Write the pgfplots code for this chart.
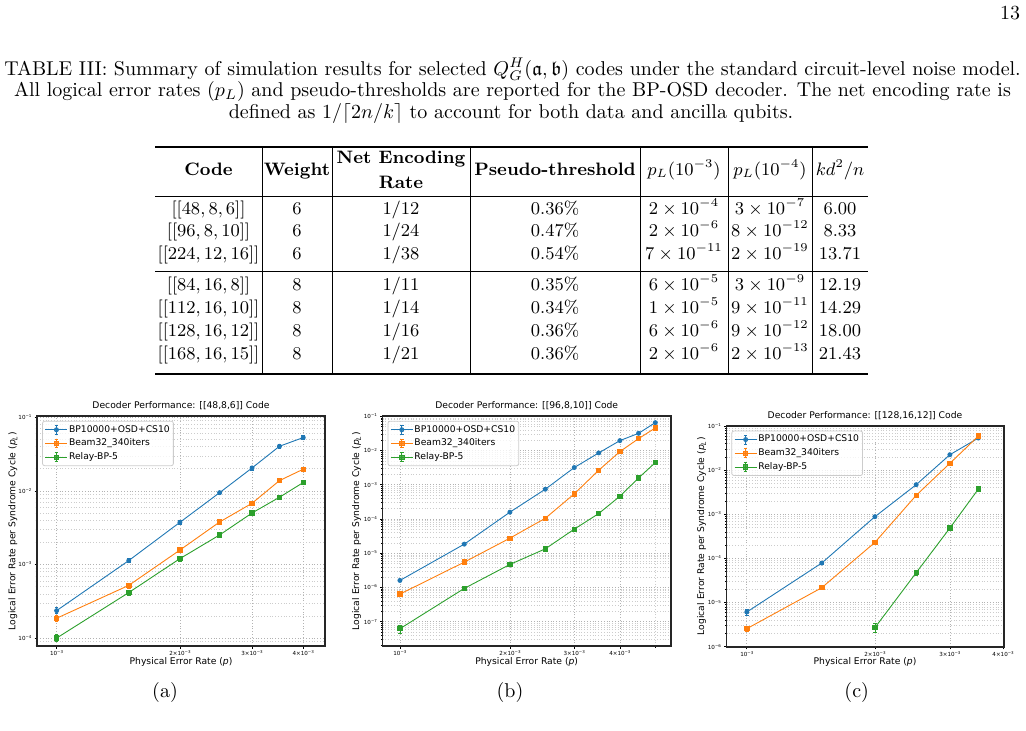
\documentclass[border=0pt]{standalone}
\usepackage{amssymb}
\usepackage{fontspec}
\usepackage{pgfplots}
\pgfplotsset{compat=1.18}
\newfontfamily\pf{DejaVu Sans}
\newcommand\pfs{\pf\fontsize{4.6}{5.5}\selectfont}
\newcommand\pft{\pf\fontsize{2.8}{3.2}\selectfont}
\newcommand\tsup[1]{\raisebox{0.95pt}{\fontsize{2.0}{2.2}\selectfont #1}}
\definecolor{mblue}{HTML}{1F77B4}
\definecolor{morange}{HTML}{FF7F0E}
\definecolor{mgreen}{HTML}{2CA02C}
\pgfplotsset{
  legend image code/.code={
    \draw[#1,mark=none] (0pt,0pt) -- (11pt,0pt);
    \draw[#1,mark=none] (5.5pt,-2.2pt) -- (5.5pt,2.2pt);
    \draw[#1,mark=none] (4.6pt,-2.2pt) -- (6.4pt,-2.2pt);
    \draw[#1,mark=none] (4.6pt,2.2pt) -- (6.4pt,2.2pt);
    \draw[#1] plot coordinates {(5.5pt,0pt)};
  },
}
\newcommand\trow[8]{%
  \node[tb] at (208.5,#1) {#2};
  \node[tb] at (297,#1) {#3};
  \node[tb] at (401,#1) {#4};
  \node[tb] at (555,#1) {#5};
  \node[tb] at (684,#1) {#6};
  \node[tb] at (770,#1) {#7};
  \node[tb] at (840,#1) {#8};}
\begin{document}
\begin{tikzpicture}
\path[use as bounding box] (0pt,0pt) rectangle (513pt,-365pt);
\begin{scope}[x=0.5pt,y=-0.5pt, tb/.style={anchor=base, inner sep=0pt, font=\small}]
  \node[anchor=base, inner sep=0pt] at (1010,19.5) {13};
  \node[anchor=base, inner sep=0pt] at (512.5,75) {TABLE III: Summary of simulation results for selected $Q_G^H(\mathfrak{a},\mathfrak{b})$ codes under the standard circuit-level noise model.};
  \node[anchor=base, inner sep=0pt] at (512.5,96) {All logical error rates ($p_L$) and pseudo-thresholds are reported for the BP-OSD decoder. The net encoding rate is};
  \node[anchor=base, inner sep=0pt] at (511,118) {defined as $1/\lceil 2n/k\rceil$ to account for both data and ancilla qubits.};
  \draw[line width=0.6pt] (155,147) -- (868,147);
  \draw[line width=0.4pt] (155,196) -- (868,196);
  \draw[line width=0.5pt] (155,271) -- (868,271);
  \draw[line width=0.6pt] (155,374) -- (868,374);
  \foreach \vx in {262,332,470,640,728,812} \draw[line width=0.4pt] (\vx,147) -- (\vx,374);
  \node[tb] at (208.5,175) {\textbf{Code}};
  \node[tb] at (297,175) {\textbf{Weight}};
  \node[tb] at (401,163) {\textbf{Net Encoding}};
  \node[tb] at (401,188) {\textbf{Rate}};
  \node[tb] at (555,175) {\textbf{Pseudo-threshold}};
  \node[tb] at (684,175) {$p_L(10^{-3})$};
  \node[tb] at (770,175) {$p_L(10^{-4})$};
  \node[tb] at (840,175) {$kd^2/n$};
  \trow{214.5}{$[[48,8,6]]$}{6}{$1/12$}{0.36\%}{$2\times10^{-4}$}{$3\times10^{-7}$}{6.00}
  \trow{236.5}{$[[96,8,10]]$}{6}{$1/24$}{0.47\%}{$2\times10^{-6}$}{$8\times10^{-12}$}{8.33}
  \trow{259.5}{$[[224,12,16]]$}{6}{$1/38$}{0.54\%}{$7\times10^{-11}$}{$2\times10^{-19}$}{13.71}
  \trow{290.5}{$[[84,16,8]]$}{8}{$1/11$}{0.35\%}{$6\times10^{-5}$}{$3\times10^{-9}$}{12.19}
  \trow{313.5}{$[[112,16,10]]$}{8}{$1/14$}{0.34\%}{$1\times10^{-5}$}{$9\times10^{-11}$}{14.29}
  \trow{336.5}{$[[128,16,12]]$}{8}{$1/16$}{0.36\%}{$6\times10^{-6}$}{$9\times10^{-12}$}{18.00}
  \trow{359.5}{$[[168,16,15]]$}{8}{$1/21$}{0.36\%}{$2\times10^{-6}$}{$2\times10^{-13}$}{21.43}
  \node[font=\pfs] at (181,406) {Decoder Performance: [[48,8,6]] Code};
  \node[font=\pfs] at (526.7,406) {Decoder Performance: [[96,8,10]] Code};
  \node[font=\pfs] at (865,416) {Decoder Performance: [[128,16,12]] Code};
  \node[font=\pfs] at (181,662) {Physical Error Rate ({\itshape p})};
  \node[font=\pfs] at (526.7,662) {Physical Error Rate ({\itshape p})};
  \node[font=\pfs] at (865,662) {Physical Error Rate ({\itshape p})};
  \node[font=\pfs, rotate=90] at (13,531) {Logical Error Rate per Syndrome Cycle ({\itshape p}\textsubscript{\itshape L})};
  \node[font=\pfs, rotate=90] at (356.7,531) {Logical Error Rate per Syndrome Cycle ({\itshape p}\textsubscript{\itshape L})};
  \node[font=\pfs, rotate=90] at (701.7,536) {Logical Error Rate per Syndrome Cycle ({\itshape p}\textsubscript{\itshape L})};
  \node[anchor=base, inner sep=0pt] at (165,697) {(a)};
  \node[anchor=base, inner sep=0pt] at (510,697) {(b)};
  \node[anchor=base, inner sep=0pt] at (856.7,697) {(c)};
\end{scope}

% ---------- (a) ----------
\begin{axis}[scale only axis, xmode=log, ymode=log, anchor=south west,
  at={(18.65pt,-323pt)}, width=143.85pt, height=115pt,
  tick align=outside, xtick pos=bottom, ytick pos=left,
  major tick length=1.3pt, minor tick length=0.8pt,
  tick style={line width=0.3pt, black},
  axis line style={line width=0.8pt, black!85},
  xmajorgrids, ymajorgrids, yminorgrids,
  major grid style={densely dotted, gray!60, line width=0.3pt},
  minor grid style={densely dotted, gray!40, line width=0.25pt},
  ticklabel style={font=\pft},
  xticklabel style={inner sep=0.8pt}, yticklabel style={inner sep=1.4pt},
  xtick={0.001,0.002,0.003,0.004},
  xticklabels={10\tsup{−3},2×10\tsup{−3},3×10\tsup{−3},4×10\tsup{−3}},
  legend cell align=left,
  legend style={at={(0.017,0.979)}, anchor=north west, font=\pfs,
    draw=gray!40, rounded corners=1pt, fill=white, fill opacity=0.8, text opacity=1,
    inner xsep=1.2pt, inner ysep=1.4pt, row sep=1.15pt,
    nodes={inner sep=0.6pt, text height=3.4pt, text depth=1.1pt}},
  xmin=0.000897, xmax=0.00452, ymin=7.8e-5, ymax=0.104,
  ytick={1e-4,1e-3,1e-2,1e-1},
  yticklabels={10\tsup{−4},10\tsup{−3},10\tsup{−2},10\tsup{−1}},
  minor ytick={8e-5,9e-5,2e-4,3e-4,4e-4,5e-4,6e-4,7e-4,8e-4,9e-4,2e-3,3e-3,4e-3,5e-3,6e-3,7e-3,8e-3,9e-3,2e-2,3e-2,4e-2,5e-2,6e-2,7e-2,8e-2,9e-2}]
\addplot[mblue, mark=*, mark size=1pt, line width=0.45pt,
  error bars/y dir=both, error bars/y explicit,
  error bars/error bar style={line width=0.35pt},
  error bars/error mark options={rotate=90, mark size=0.9pt, line width=0.35pt}]
  table[x=x,y=y,y error=e] {
x y e
0.001 2.36e-4 2.2e-5
0.0015 1.13e-3 7e-5
0.002 3.74e-3 2.2e-4
0.0025 9.46e-3 5e-4
0.003 2.05e-2 1.2e-3
0.0035 4.04e-2 2.2e-3
0.004 5.3e-2 3.5e-3
};
\addlegendentry{BP10000+OSD+CS10}
\addplot[morange, mark=square*, mark size=1.1pt, line width=0.45pt,
  error bars/y dir=both, error bars/y explicit,
  error bars/error bar style={line width=0.35pt},
  error bars/error mark options={rotate=90, mark size=0.9pt, line width=0.35pt}]
  table[x=x,y=y,y error=e] {
x y e
0.001 1.86e-4 1.9e-5
0.0015 5.2e-4 4e-5
0.002 1.57e-3 1e-4
0.0025 3.78e-3 2.2e-4
0.003 6.79e-3 4.5e-4
0.0035 1.38e-2 9e-4
0.004 1.97e-2 1.3e-3
};
\addlegendentry{Beam32\_340iters}
\addplot[mgreen, mark=square*, mark size=1.1pt, line width=0.45pt,
  error bars/y dir=both, error bars/y explicit,
  error bars/error bar style={line width=0.35pt},
  error bars/error mark options={rotate=90, mark size=0.9pt, line width=0.35pt}]
  table[x=x,y=y,y error=e] {
x y e
0.001 1.0e-4 1.1e-5
0.0015 4.15e-4 3.5e-5
0.002 1.2e-3 8e-5
0.0025 2.52e-3 1.8e-4
0.003 5.01e-3 3.5e-4
0.0035 8.19e-3 6e-4
0.004 1.3e-2 9e-4
};
\addlegendentry{Relay-BP-5}
\end{axis}

% ---------- (b) ----------
\begin{axis}[scale only axis, xmode=log, ymode=log, anchor=south west,
  at={(191.35pt,-323pt)}, width=144.15pt, height=115pt,
  tick align=outside, xtick pos=bottom, ytick pos=left,
  major tick length=1.3pt, minor tick length=0.8pt,
  tick style={line width=0.3pt, black},
  axis line style={line width=0.8pt, black!85},
  xmajorgrids, xminorgrids, ymajorgrids, yminorgrids,
  major grid style={densely dotted, gray!60, line width=0.3pt},
  minor grid style={densely dotted, gray!40, line width=0.25pt},
  ticklabel style={font=\pft},
  xticklabel style={inner sep=0.8pt}, yticklabel style={inner sep=1.4pt},
  xtick={0.001,0.002,0.003,0.004},
  xticklabels={10\tsup{−3},2×10\tsup{−3},3×10\tsup{−3},4×10\tsup{−3}},
  minor xtick={0.005},
  legend cell align=left,
  legend style={at={(0.017,0.979)}, anchor=north west, font=\pfs,
    draw=gray!40, rounded corners=1pt, fill=white, fill opacity=0.8, text opacity=1,
    inner xsep=1.2pt, inner ysep=1.4pt, row sep=1.15pt,
    nodes={inner sep=0.6pt, text height=3.4pt, text depth=1.1pt}},
  xmin=0.000897, xmax=0.00552, ymin=1.94e-8, ymax=0.102,
  ytick={1e-7,1e-6,1e-5,1e-4,1e-3,1e-2,1e-1},
  yticklabels={10\tsup{−7},10\tsup{−6},10\tsup{−5},10\tsup{−4},10\tsup{−3},10\tsup{−2},10\tsup{−1}},
  minor ytick={2e-8,3e-8,4e-8,5e-8,6e-8,7e-8,8e-8,9e-8,2e-7,3e-7,4e-7,5e-7,6e-7,7e-7,8e-7,9e-7,2e-6,3e-6,4e-6,5e-6,6e-6,7e-6,8e-6,9e-6,2e-5,3e-5,4e-5,5e-5,6e-5,7e-5,8e-5,9e-5,2e-4,3e-4,4e-4,5e-4,6e-4,7e-4,8e-4,9e-4,2e-3,3e-3,4e-3,5e-3,6e-3,7e-3,8e-3,9e-3,2e-2,3e-2,4e-2,5e-2,6e-2,7e-2,8e-2,9e-2}]
\addplot[mblue, mark=*, mark size=1pt, line width=0.45pt,
  error bars/y dir=both, error bars/y explicit,
  error bars/error bar style={line width=0.35pt},
  error bars/error mark options={rotate=90, mark size=0.9pt, line width=0.35pt}]
  table[x=x,y=y,y error=e] {
x y e
0.001 1.6e-6 1.0e-7
0.0015 1.84e-5 6e-7
0.002 1.58e-4 3e-6
0.0025 7.41e-4 1e-5
0.003 3.18e-3 3e-5
0.0035 8.51e-3 6e-5
0.004 1.95e-2 1e-4
0.0045 3.19e-2 2e-4
0.005 6.53e-2 3e-4
};
\addlegendentry{BP10000+OSD+CS10}
\addplot[morange, mark=square*, mark size=1.1pt, line width=0.45pt,
  error bars/y dir=both, error bars/y explicit,
  error bars/error bar style={line width=0.35pt},
  error bars/error mark options={rotate=90, mark size=0.9pt, line width=0.35pt}]
  table[x=x,y=y,y error=e] {
x y e
0.001 6.38e-7 6e-8
0.0015 5.48e-6 3e-7
0.002 2.75e-5 1e-6
0.0025 1.05e-4 3e-6
0.003 5.41e-4 1e-5
0.0035 2.65e-3 3e-5
0.004 9.31e-3 6e-5
0.0045 2.23e-2 1e-4
0.005 4.57e-2 2e-4
};
\addlegendentry{Beam32\_340iters}
\addplot[mgreen, mark=square*, mark size=1.1pt, line width=0.45pt,
  error bars/y dir=both, error bars/y explicit,
  error bars/error bar style={line width=0.35pt},
  error bars/error mark options={rotate=90, mark size=0.9pt, line width=0.35pt}]
  table[x=x,y=y,y error=e] {
x y e
0.001 6.22e-8 1.6e-8
0.0015 9.35e-7 8e-8
0.002 4.69e-6 2.5e-7
0.0025 1.34e-5 6e-7
0.003 5.04e-5 1.5e-6
0.0035 1.44e-4 4e-6
0.004 4.62e-4 1e-5
0.0045 1.58e-3 3e-5
0.005 4.45e-3 6e-5
};
\addlegendentry{Relay-BP-5}
\end{axis}

% ---------- (c) ----------
\begin{axis}[scale only axis, xmode=log, ymode=log, anchor=south west,
  at={(363.35pt,-323.35pt)}, width=138.65pt, height=110.35pt,
  tick align=outside, xtick pos=bottom, ytick pos=left,
  major tick length=1.3pt, minor tick length=0.8pt,
  tick style={line width=0.3pt, black},
  axis line style={line width=0.8pt, black!85},
  xmajorgrids, ymajorgrids, yminorgrids,
  major grid style={densely dotted, gray!60, line width=0.3pt},
  minor grid style={densely dotted, gray!40, line width=0.25pt},
  ticklabel style={font=\pft},
  xticklabel style={inner sep=0.8pt}, yticklabel style={inner sep=1.4pt},
  xtick={0.001,0.002,0.003,0.004},
  xticklabels={10\tsup{−3},2×10\tsup{−3},3×10\tsup{−3},4×10\tsup{−3}},
  legend cell align=left,
  legend style={at={(0.017,0.979)}, anchor=north west, font=\pfs,
    draw=gray!40, rounded corners=1pt, fill=white, fill opacity=0.8, text opacity=1,
    inner xsep=1.2pt, inner ysep=1.4pt, row sep=1.15pt,
    nodes={inner sep=0.6pt, text height=3.4pt, text depth=1.1pt}},
  xmin=0.000897, xmax=0.00402, ymin=0.999e-6, ymax=0.1001,
  ytick={1e-6,1e-5,1e-4,1e-3,1e-2,1e-1},
  yticklabels={10\tsup{−6},10\tsup{−5},10\tsup{−4},10\tsup{−3},10\tsup{−2},10\tsup{−1}},
  minor ytick={2e-6,3e-6,4e-6,5e-6,6e-6,7e-6,8e-6,9e-6,2e-5,3e-5,4e-5,5e-5,6e-5,7e-5,8e-5,9e-5,2e-4,3e-4,4e-4,5e-4,6e-4,7e-4,8e-4,9e-4,2e-3,3e-3,4e-3,5e-3,6e-3,7e-3,8e-3,9e-3,2e-2,3e-2,4e-2,5e-2,6e-2,7e-2,8e-2,9e-2}]
\addplot[mblue, mark=*, mark size=1pt, line width=0.45pt,
  error bars/y dir=both, error bars/y explicit,
  error bars/error bar style={line width=0.35pt},
  error bars/error mark options={rotate=90, mark size=0.9pt, line width=0.35pt}]
  table[x=x,y=y,y error=e] {
x y e
0.001 6.1e-6 9e-7
0.0015 7.87e-5 5e-6
0.002 8.83e-4 5e-5
0.0025 4.69e-3 2e-4
0.003 2.24e-2 8e-4
0.0035 5.35e-2 1.5e-3
};
\addlegendentry{BP10000+OSD+CS10}
\addplot[morange, mark=square*, mark size=1.1pt, line width=0.45pt,
  error bars/y dir=both, error bars/y explicit,
  error bars/error bar style={line width=0.35pt},
  error bars/error mark options={rotate=90, mark size=0.9pt, line width=0.35pt}]
  table[x=x,y=y,y error=e] {
x y e
0.001 2.56e-6 3.5e-7
0.0015 2.17e-5 2e-6
0.002 2.31e-4 1.5e-5
0.0025 2.69e-3 1.3e-4
0.003 1.43e-2 6e-4
0.0035 5.93e-2 1.5e-3
};
\addlegendentry{Beam32\_340iters}
\addplot[mgreen, mark=square*, mark size=1.1pt, line width=0.45pt,
  error bars/y dir=both, error bars/y explicit,
  error bars/error bar style={line width=0.35pt},
  error bars/error mark options={rotate=90, mark size=0.9pt, line width=0.35pt}]
  table[x=x,y=y,y error=e] {
x y e
0.002 2.70e-6 6e-7
0.0025 4.75e-5 6e-6
0.003 4.89e-4 3e-5
0.0035 3.74e-3 1.5e-4
};
\addlegendentry{Relay-BP-5}
\end{axis}
\end{tikzpicture}
\end{document}
